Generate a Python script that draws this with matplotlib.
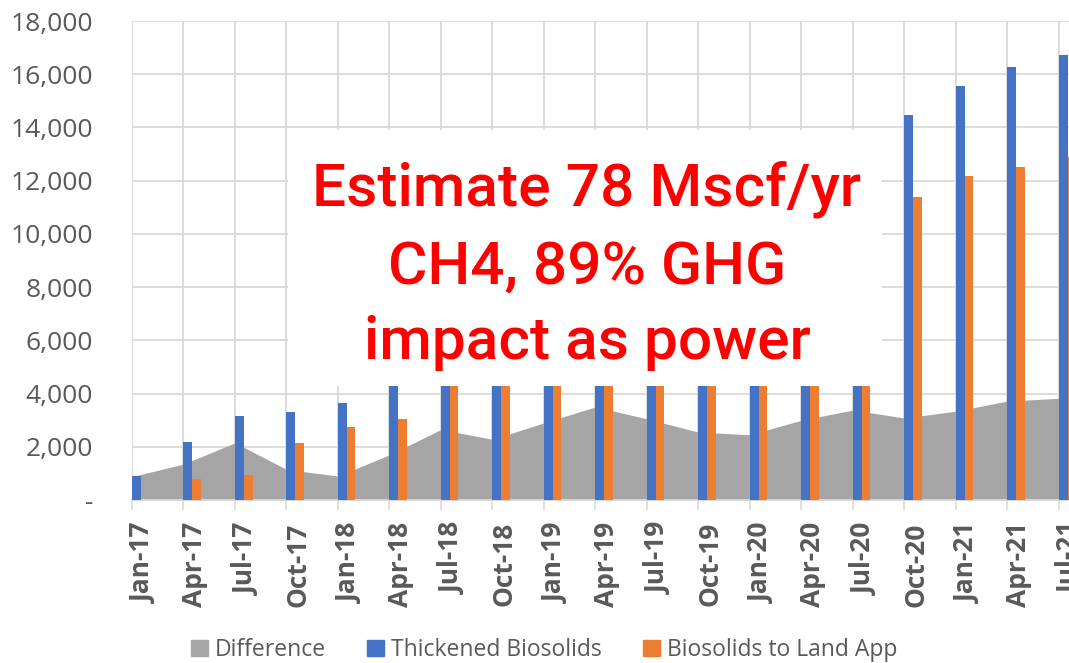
import matplotlib
matplotlib.use('Agg')
import matplotlib.pyplot as plt
from matplotlib.patches import Patch, Rectangle
import numpy as np

quarters = ['Jan-17', 'Apr-17', 'Jul-17', 'Oct-17', 'Jan-18', 'Apr-18', 'Jul-18',
            'Oct-18', 'Jan-19', 'Apr-19', 'Jul-19', 'Oct-19', 'Jan-20', 'Apr-20',
            'Jul-20', 'Oct-20', 'Jan-21', 'Apr-21', 'Jul-21']
difference = [880, 1350, 2150, 1150, 900, 1700, 2650, 2280, 2900, 3500, 3050,
              2550, 2450, 3000, 3380, 3080, 3340, 3720, 3820]
# values above ~4,300 for Apr-18..Jul-20 are hidden by the note box, estimated
thickened = [890, 2190, 3140, 3290, 3660, 4750, 7850, 8380, 9800, 10600, 11050,
             11350, 11550, 12700, 13500, 14450, 15560, 16270, 16720]
land_app = [0, 800, 940, 2140, 2760, 3040, 5200, 6100, 6900, 7100, 8000,
            8800, 9100, 9700, 10100, 11400, 12190, 12530, 12900]

note_lines = ['Estimate 78 Mscf/yr', 'CH4, 89% GHG', 'impact as power']

GRAY = '#A5A5A5'
BLUE = '#4472C4'
ORANGE = '#ED7D31'
TEXT = '#595959'
GRID = '#D9D9D9'

plt.rcParams['font.family'] = ['Open Sans', 'DejaVu Sans']

W, H = 1069, 663
fig = plt.figure(figsize=(W / 100, H / 100), dpi=100)
ax = fig.add_axes([132 / W, (H - 500) / H, 963 / W, 479 / H])

x = np.arange(len(quarters))
bw = 0.17

ax.fill_between(x, difference, 0, color=GRAY, lw=0, zorder=2)
ax.bar(x, thickened, width=bw, align='edge', color=BLUE, zorder=3)
ax.bar(x + bw, land_app, width=bw, align='edge', color=ORANGE, zorder=3)

ax.set_xlim(0, 18.7)
ax.set_ylim(0, 18000)

yt = np.arange(0, 18001, 2000)
ax.set_yticks(yt)
ax.set_yticklabels(['-' if v == 0 else f'{v:,}' for v in yt],
                   fontsize=19, color=TEXT)
ax.tick_params(axis='y', length=0, pad=28)

ax.set_xticks(x)
ax.set_xticklabels([''] * len(x))
ax.tick_params(axis='x', which='major', length=7.2, width=1.2, color=GRID)
ax.set_xticks(x + 0.22, minor=True)
ax.set_xticklabels(quarters, minor=True, rotation=90, fontsize=19,
                   fontweight='bold', color=TEXT)
ax.tick_params(axis='x', which='minor', length=0, pad=16)

ax.grid(True, which='major', color=GRID, lw=1.3)
ax.set_axisbelow(True)
for s in ['top', 'right', 'left']:
    ax.spines[s].set_visible(False)
ax.spines['bottom'].set_color(GRID)
ax.spines['bottom'].set_linewidth(1.3)

# white note box over the chart
fig.add_artist(Rectangle((288 / W, 1 - 386 / H), (882 - 288) / W, (386 - 130) / H,
                         transform=fig.transFigure, fc='white', ec='none', zorder=5))
for line, base in zip(note_lines, [206, 284, 359]):
    fig.text(587 / W, 1 - base / H, line, ha='center', va='baseline',
             color='#FF0000', fontsize=43.5, family='Roboto',
             fontweight='medium', zorder=6)

handles = [Patch(color=GRAY), Patch(color=BLUE), Patch(color=ORANGE)]
fig.legend(handles, ['Difference', 'Thickened Biosolids', 'Biosolids to Land App'],
           loc='center', bbox_to_anchor=(0.509, 1 - 650 / H), ncol=3,
           frameon=False, fontsize=16.5, labelcolor=TEXT,
           handlelength=0.75, handleheight=0.75, handletextpad=0.3,
           columnspacing=1.8)

fig.savefig('out.png', dpi=100)
